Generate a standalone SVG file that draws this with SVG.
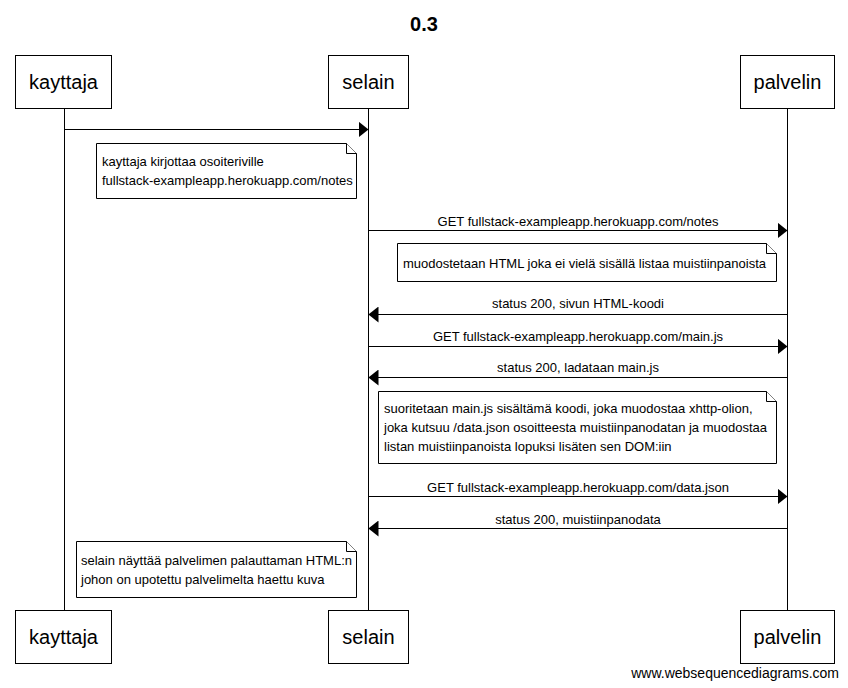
<svg xmlns="http://www.w3.org/2000/svg" width="848" height="688" viewBox="0 0 848 688">
<style>
  .box{fill:#fff;stroke:#000;stroke-width:1}
  .life{stroke:#000;stroke-width:1}
  .msg{stroke:#000;stroke-width:1;fill:none}
  .actor{font-family:"Liberation Sans",Arial,sans-serif;font-size:20px;text-anchor:middle;fill:#000}
  .lbl{font-family:"Liberation Sans",Arial,sans-serif;font-size:13px;text-anchor:middle;fill:#000}
  .nt{font-family:"Liberation Sans",Arial,sans-serif;font-size:13px;fill:#000}
  .note{fill:#fff;stroke:#000;stroke-width:1}
</style>
<defs>
  <marker id="ah" markerWidth="10" markerHeight="16" refX="10" refY="8" orient="auto" markerUnits="userSpaceOnUse">
    <path d="M0,0 L10,8 L0,16 Z" fill="#000"/>
  </marker>
</defs>
<rect width="848" height="688" fill="#fff"/>
<text x="424" y="31" font-family="'Liberation Sans',Arial,sans-serif" font-size="20" font-weight="bold" text-anchor="middle">0.3</text>

<g id="lifelines">
  <line class="life" x1="64.5" y1="108" x2="64.5" y2="610"/>
  <line class="life" x1="368.5" y1="108" x2="368.5" y2="610"/>
  <line class="life" x1="787.5" y1="108" x2="787.5" y2="610"/>
</g>

<g id="kayttaja">
  <rect class="box" x="15.5" y="55.5" width="96" height="53"/>
  <text class="actor" x="63.5" y="89">kayttaja</text>
  <rect class="box" x="15.5" y="610.5" width="96" height="53"/>
  <text class="actor" x="63.5" y="644">kayttaja</text>
</g>
<g id="selain">
  <rect class="box" x="328.5" y="55.5" width="80" height="53"/>
  <text class="actor" x="368.5" y="89">selain</text>
  <rect class="box" x="328.5" y="610.5" width="80" height="53"/>
  <text class="actor" x="368.5" y="644">selain</text>
</g>
<g id="palvelin">
  <rect class="box" x="740.5" y="55.5" width="94" height="53"/>
  <text class="actor" x="787.5" y="89">palvelin</text>
  <rect class="box" x="740.5" y="610.5" width="94" height="53"/>
  <text class="actor" x="787.5" y="644">palvelin</text>
</g>

<g id="connectors">
  <line class="msg" x1="64.5" y1="129.5" x2="368.5" y2="129.5" marker-end="url(#ah)"/>
  <line class="msg" x1="368.5" y1="230.5" x2="787.5" y2="230.5" marker-end="url(#ah)"/>
  <text class="lbl" x="578" y="226">GET fullstack-exampleapp.herokuapp.com/notes</text>
  <line class="msg" x1="787.5" y1="314.5" x2="368.5" y2="314.5" marker-end="url(#ah)"/>
  <text class="lbl" x="578" y="308">status 200, sivun HTML-koodi</text>
  <line class="msg" x1="368.5" y1="346.5" x2="787.5" y2="346.5" marker-end="url(#ah)"/>
  <text class="lbl" x="578" y="341">GET fullstack-exampleapp.herokuapp.com/main.js</text>
  <line class="msg" x1="787.5" y1="377.5" x2="368.5" y2="377.5" marker-end="url(#ah)"/>
  <text class="lbl" x="578" y="372">status 200, ladataan main.js</text>
  <line class="msg" x1="368.5" y1="496.5" x2="787.5" y2="496.5" marker-end="url(#ah)"/>
  <text class="lbl" x="578" y="492">GET fullstack-exampleapp.herokuapp.com/data.json</text>
  <line class="msg" x1="787.5" y1="528.5" x2="368.5" y2="528.5" marker-end="url(#ah)"/>
  <text class="lbl" x="578" y="524">status 200, muistiinpanodata</text>
</g>

<g id="note1">
  <path class="note" d="M96.5,143.5 H346.5 L356.5,153.5 V198.5 H96.5 Z"/>
  <path class="note" d="M346.5,143.5 V153.5 H356.5"/>
  <text class="nt" x="102" y="166">kayttaja kirjottaa osoiteriville</text>
  <text class="nt" x="102" y="185">fullstack-exampleapp.herokuapp.com/notes</text>
</g>
<g id="note2">
  <path class="note" d="M397.5,243.5 H766.5 L776.5,253.5 V281.5 H397.5 Z"/>
  <path class="note" d="M766.5,243.5 V253.5 H776.5"/>
  <text class="nt" x="403" y="268">muodostetaan HTML joka ei vielä sisällä listaa muistiinpanoista</text>
</g>
<g id="note3">
  <path class="note" d="M378.5,391.5 H766.5 L776.5,401.5 V463.5 H378.5 Z"/>
  <path class="note" d="M766.5,391.5 V401.5 H776.5"/>
  <text class="nt" x="384" y="413">suoritetaan main.js sisältämä koodi, joka muodostaa xhttp-olion,</text>
  <text class="nt" x="384" y="432">joka kutsuu /data.json osoitteesta muistiinpanodatan ja muodostaa</text>
  <text class="nt" x="384" y="451">listan muistiinpanoista lopuksi lisäten sen DOM:iin</text>
</g>
<g id="note4">
  <path class="note" d="M76.5,541.5 H346.5 L356.5,551.5 V597.5 H76.5 Z"/>
  <path class="note" d="M346.5,541.5 V551.5 H356.5"/>
  <text class="nt" x="81" y="565">selain näyttää palvelimen palauttaman HTML:n</text>
  <text class="nt" x="81" y="584">johon on upotettu palvelimelta haettu kuva</text>
</g>

<text x="839" y="678" font-family="'Liberation Sans',Arial,sans-serif" font-size="14" text-anchor="end">www.websequencediagrams.com</text>
</svg>
